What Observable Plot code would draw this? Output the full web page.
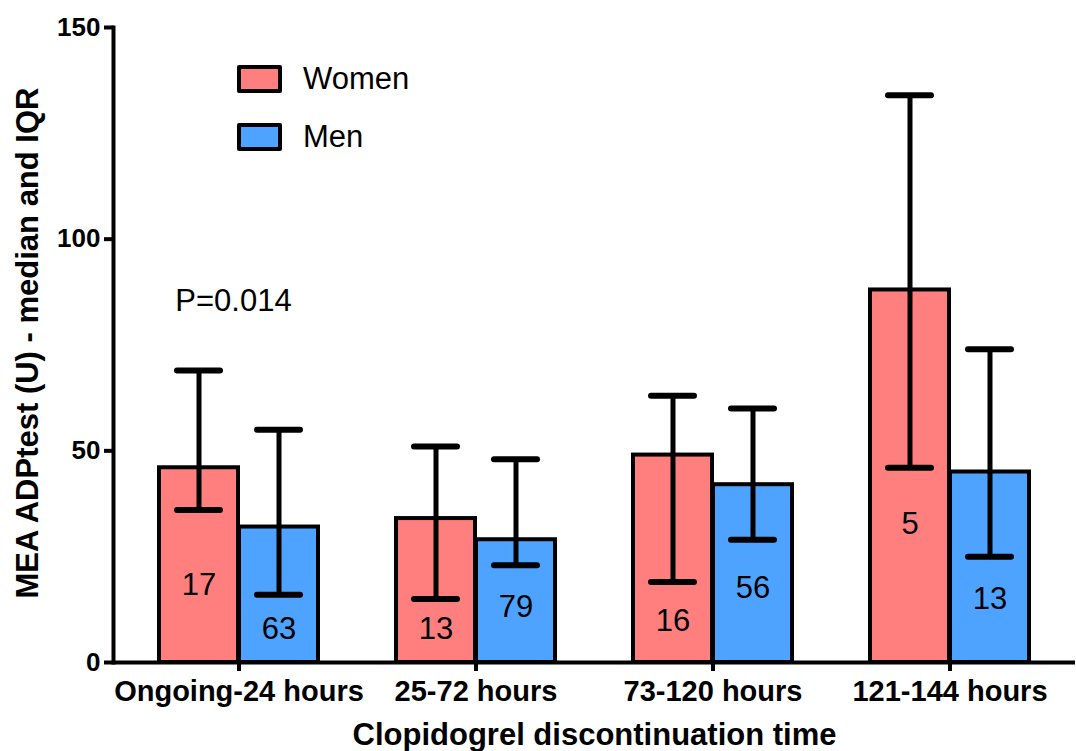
<!DOCTYPE html>
<html>
<head>
<meta charset="utf-8">
<script src="https://cdn.jsdelivr.net/npm/d3@7"></script>
<script src="https://cdn.jsdelivr.net/npm/@observablehq/plot@0.6"></script>
<style>
  body { margin: 0; background: #fff; }
  #wrap { position: relative; width: 1076px; height: 751px; font-family: "Liberation Sans", Arial, sans-serif; }
  .leg { position: absolute; display: flex; align-items: center; font-size: 31px; color: #000; }
  .sw { width: 37px; height: 20px; border: 4.5px solid #000; border-radius: 2px; margin-right: 21px; }
</style>
</head>
<body>
<div id="wrap"></div>
<script>
const groups = ["Ongoing-24 hours", "25-72 hours", "73-120 hours", "121-144 hours"];
const womenMedian = [46, 34, 49, 88];
const womenQ1 = [36, 15, 19, 46];
const womenQ3 = [69, 51, 63, 134];
const womenN = [17, 13, 16, 5];
const womenLabelY = [18.2, 7.9, 9.9, 32.6];
const menMedian = [32, 29, 42, 45];
const menQ1 = [16, 23, 29, 25];
const menQ3 = [55, 48, 60, 74];
const menN = [63, 79, 56, 13];
const menLabelY = [7.8, 13.2, 17.6, 15];
const yTicks = [0, 50, 100, 150];
const pText = "P=0.014";
const pY = 85.3;

const women = groups.map((g, i) => ({group: g, median: womenMedian[i], q1: womenQ1[i], q3: womenQ3[i], n: womenN[i], ly: womenLabelY[i]}));
const men = groups.map((g, i) => ({group: g, median: menMedian[i], q1: menQ1[i], q3: menQ3[i], n: menN[i], ly: menLabelY[i]}));

const pink = "#ff7f7f", blue = "#4da3ff";

const chart = Plot.plot({
  width: 1076,
  height: 751,
  marginLeft: 113,
  marginRight: 1,
  marginTop: 27,
  marginBottom: 89,
  style: {fontFamily: "Liberation Sans, Arial, sans-serif", color: "#000", background: "#fff"},
  x: {domain: groups, paddingInner: 0.3277, paddingOuter: 0.185},
  y: {domain: [0, 150]},
  marks: [
    Plot.barY(women, {x: "group", y: "median", fill: pink, stroke: "#000", strokeWidth: 4, insetRight: 80}),
    Plot.barY(men, {x: "group", y: "median", fill: blue, stroke: "#000", strokeWidth: 4, insetLeft: 80}),
    Plot.ruleX(women, {x: "group", y1: "q1", y2: "q3", dx: -40, stroke: "#000", strokeWidth: 5}),
    Plot.ruleX(men, {x: "group", y1: "q1", y2: "q3", dx: 40, stroke: "#000", strokeWidth: 5}),
    Plot.tickY(women, {x: "group", y: "q1", insetLeft: 18, insetRight: 98, stroke: "#000", strokeWidth: 6, strokeLinecap: "round"}),
    Plot.tickY(women, {x: "group", y: "q3", insetLeft: 18, insetRight: 98, stroke: "#000", strokeWidth: 6, strokeLinecap: "round"}),
    Plot.tickY(men, {x: "group", y: "q1", insetLeft: 98, insetRight: 18, stroke: "#000", strokeWidth: 6, strokeLinecap: "round"}),
    Plot.tickY(men, {x: "group", y: "q3", insetLeft: 98, insetRight: 18, stroke: "#000", strokeWidth: 6, strokeLinecap: "round"}),
    Plot.text(women, {x: "group", y: "ly", text: "n", dx: -40, fontSize: 31, fill: "#000"}),
    Plot.text(men, {x: "group", y: "ly", text: "n", dx: 40, fontSize: 31, fill: "#000"}),
    Plot.text([pText], {x: [groups[0]], y: [pY], text: d => d, dx: -5.5, fontSize: 31, fill: "#000"}),
    Plot.ruleY([0], {stroke: "#000", strokeWidth: 4}),
    Plot.frame({anchor: "left", stroke: "#000", strokeWidth: 4}),
    Plot.axisY({ticks: yTicks, tickSize: 9, strokeWidth: 4, tickPadding: 4, fontSize: 26, fontWeight: "bold", label: null}),
    Plot.axisX({tickSize: 9, strokeWidth: 4, tickPadding: 9, fontSize: 29, fontWeight: "bold", label: null}),
    Plot.text(["Clopidogrel discontinuation time"], {frameAnchor: "bottom", lineAnchor: "middle", textAnchor: "middle", dy: 73, fontSize: 31, fontWeight: "bold", fill: "#000"}),
    Plot.text(["MEA ADPtest (U) - median and IQR"], {frameAnchor: "left", lineAnchor: "middle", textAnchor: "middle", dx: -85, dy: -2, rotate: -90, fontSize: 31, fontWeight: "bold", fill: "#000"})
  ]
});

const wrap = document.getElementById("wrap");
wrap.appendChild(chart);
const legendItems = [["Women", pink, 61], ["Men", blue, 119]];
for (const [name, color, top] of legendItems) {
  const d = document.createElement("div");
  d.className = "leg";
  d.style.left = "237px";
  d.style.top = top + "px";
  const s = document.createElement("div");
  s.className = "sw";
  s.style.background = color;
  d.appendChild(s);
  d.appendChild(document.createTextNode(name));
  wrap.appendChild(d);
}
</script>
</body>
</html>
